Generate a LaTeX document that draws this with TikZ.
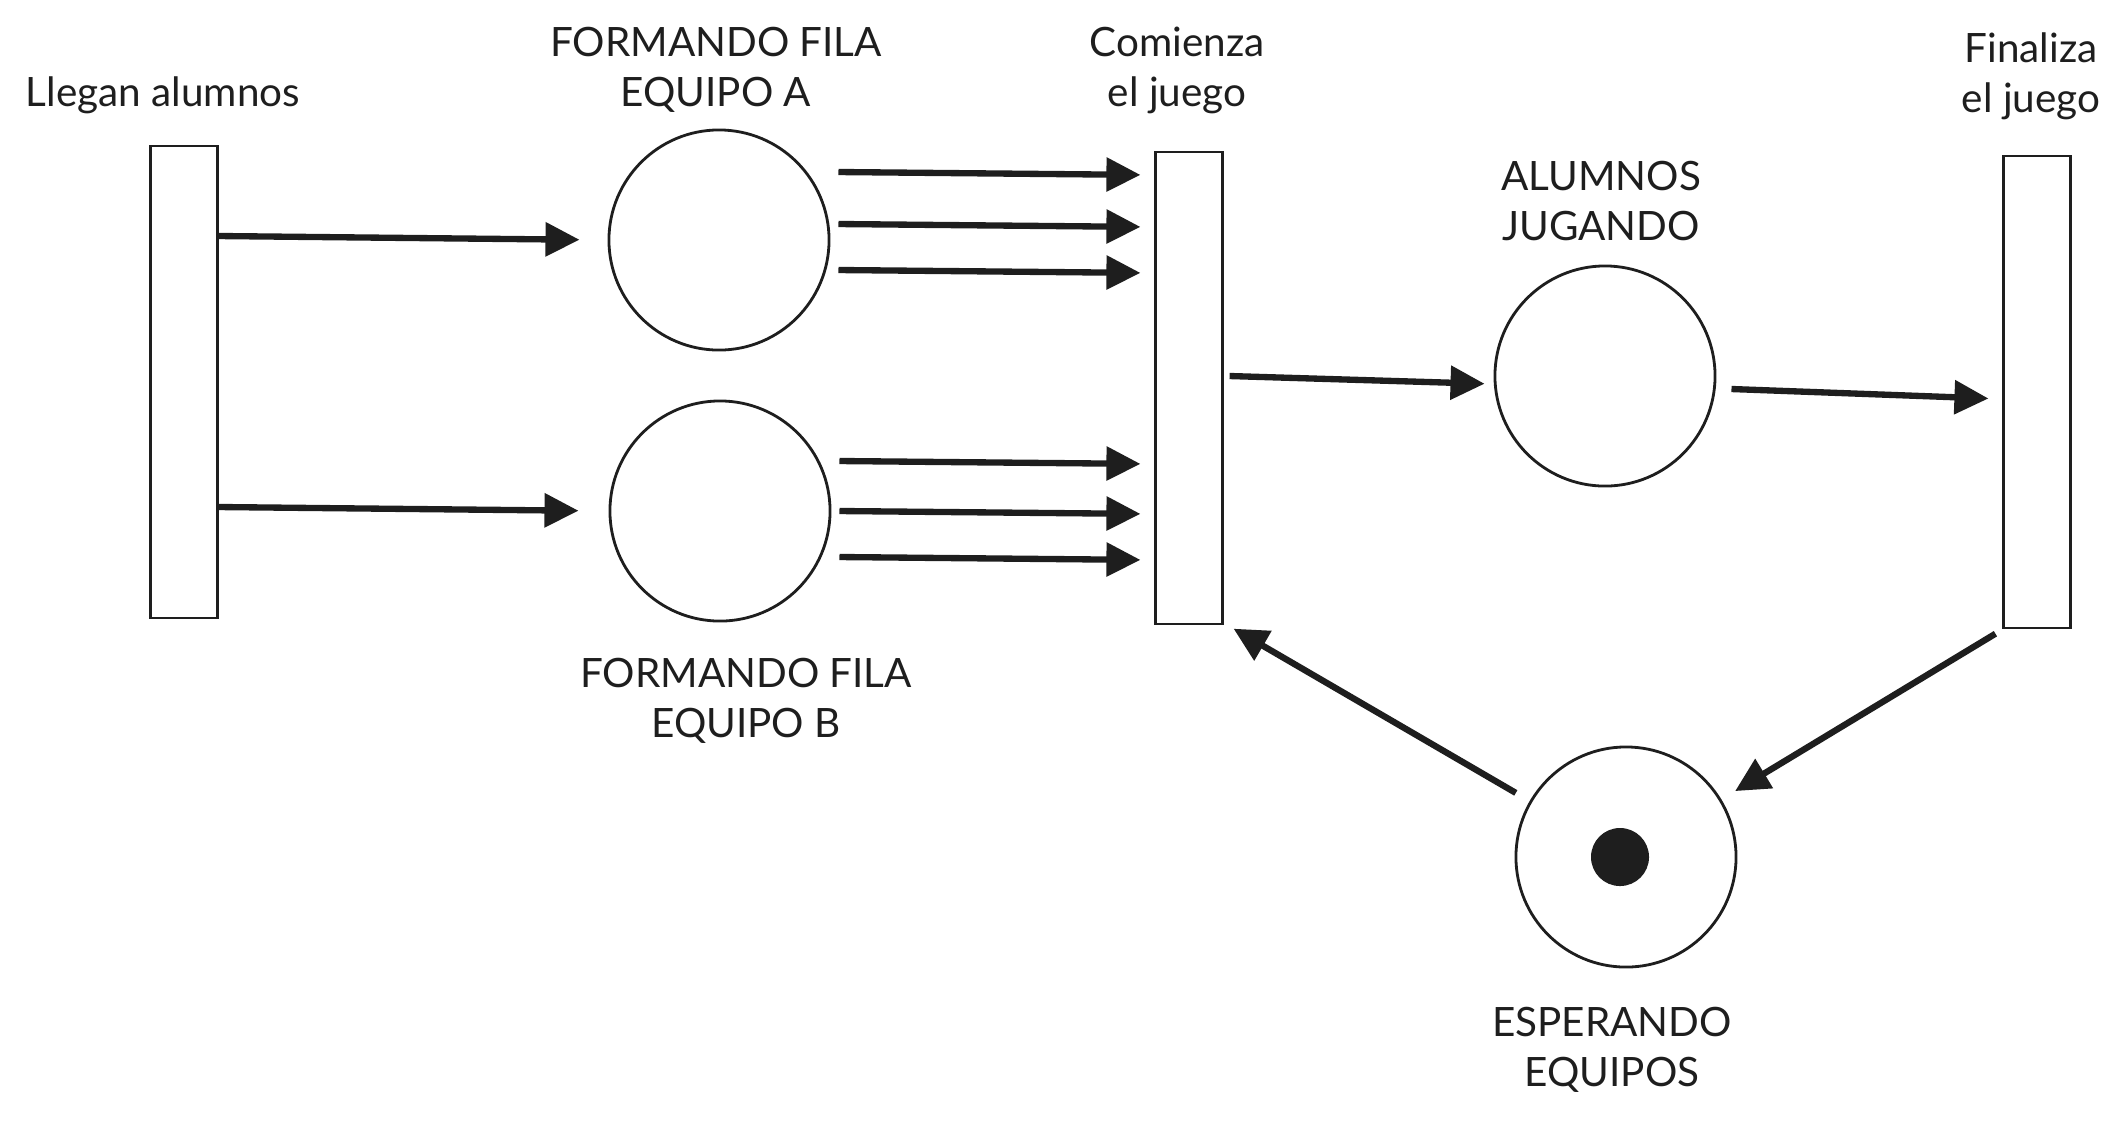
\documentclass[tikz,border=0pt]{standalone}
\usepackage{fontspec}
\setmainfont{Lato}
\usetikzlibrary{arrows.meta,calc}
\definecolor{ink}{HTML}{1E1E1E}

\begin{document}
\begin{tikzpicture}[x=0.01cm,y=-0.01cm]
\tikzstyle{trans}=[rectangle,draw=ink,line width=0.6pt,minimum width=0.67cm,minimum height=4.71cm,inner sep=0pt]
\tikzstyle{place}=[circle,draw=ink,line width=0.8pt,minimum size=2.2cm,inner sep=0pt]
\tikzstyle{token}=[circle,fill=ink,minimum size=0.58cm,inner sep=0pt]
\tikzstyle{tag}=[align=center,text=ink,font=\fontsize{11.5}{14.2}\selectfont]
\tikzstyle{arc}=[draw=ink,line width=1.8pt,-{Triangle[length=3.4mm,width=3.3mm]}]

\useasboundingbox (0,0) rectangle (2127,1120);

\node[trans] (tIn)    at (184,382) {};
\node[trans] (tStart) at (1189,388) {};
\node[trans] (tEnd)   at (2037,392) {};

\node[place] (placeA) at (719,240) {};
\node[place] (placeB) at (720,511) {};
\node[place] (placeJ) at (1605,376) {};
\node[place] (placeE) at (1626,857) {};
\node[token] (tok)    at (1620,857) {};

\node[tag] (lIn)    at (163,95)   {Llegan alumnos};
\node[tag] (lA)     at (716,70)   {FORMANDO FILA\\EQUIPO A};
\node[tag] (lB)     at (746,701)  {FORMANDO FILA\\EQUIPO B};
\node[tag] (lStart) at (1177,70)  {Comienza\\el juego};
\node[tag] (lJ)     at (1601,201) {ALUMNOS\\JUGANDO};
\node[tag] (lEnd)   at (2031,76)  {Finaliza\\el juego};
\node[tag] (lE)     at (1612,1050) {ESPERANDO\\EQUIPOS};

% students arrive in both queues
\draw[arc,shorten >=0.28cm] ($(tIn.east |- placeA.west)+(0,-4)$) -- (placeA.west);
\draw[arc,shorten >=0.3cm] ($(tIn.east |- placeB.west)+(0,-4)$) -- (placeB.west);

% three tokens from each queue
\foreach \dy in {-68,-16,30}
  \draw[arc,shorten >=0.14cm] ($(placeA.east)+(8,\dy)$) -- ($(tStart.west |- placeA.east)+(0,\dy+3)$);
\foreach \dy in {-50,0,46}
  \draw[arc,shorten >=0.14cm] ($(placeB.east)+(8,\dy)$) -- ($(tStart.west |- placeB.east)+(0,\dy+3)$);

\draw[arc,shorten >=0.09cm] ($(tStart.east |- placeJ.west)+(6,0)$) -- ($(placeJ.west)+(0,8)$);
\draw[arc,shorten >=0.14cm] ($(placeJ.east)+(15,13)$) -- ($(tEnd.west |- placeJ.east)+(0,23)$);

% back to waiting
\draw[arc,shorten >=0.16cm] ($(tEnd.south west)+(-7,5)$) -- (placeE);
\draw[arc,shorten <=0.16cm] (placeE) -- ($(tStart.south east)+(10,4)$);

\end{tikzpicture}
\end{document}
